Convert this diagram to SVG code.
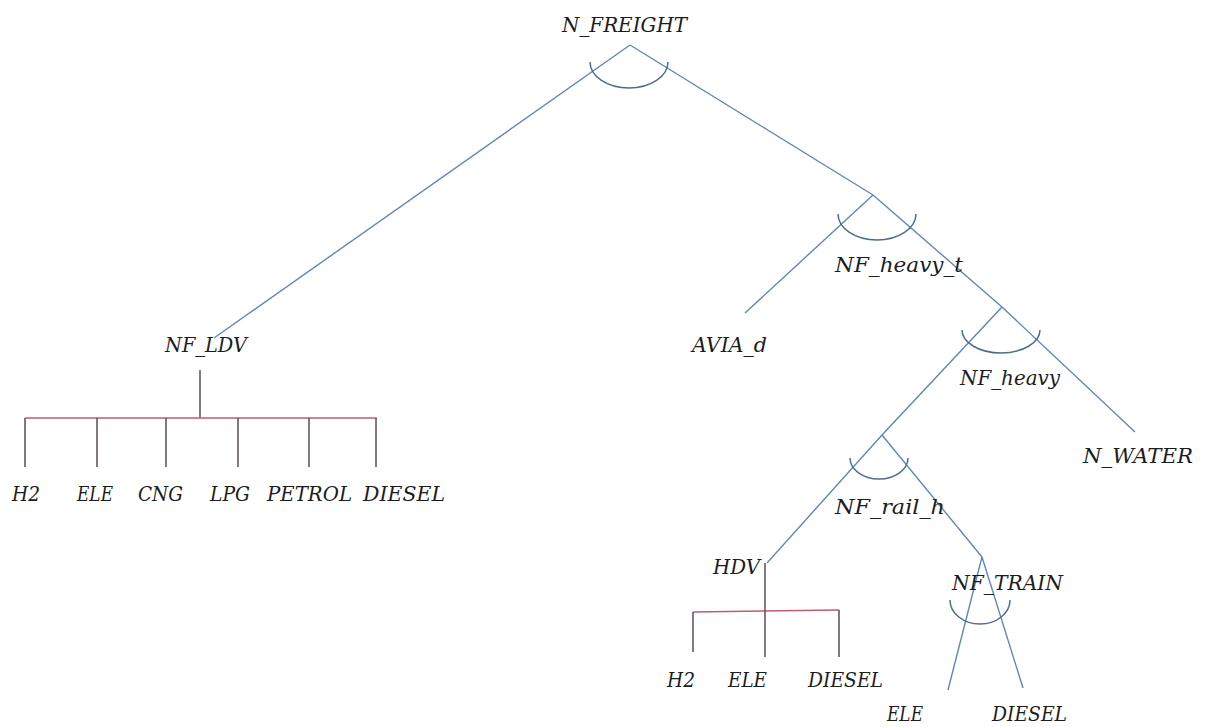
<svg xmlns="http://www.w3.org/2000/svg" width="1207" height="727" viewBox="0 0 1207 727">
<style>
.t{font-family:"DejaVu Serif","Liberation Serif",serif;font-style:italic;font-size:20px;fill:#1c1c1c}
.b{stroke:#5f88b5;stroke-width:1.4;fill:none}
.arc{stroke:#4d6d8f;stroke-width:1.5;fill:none}
.r{stroke:#bf5f6a;stroke-width:1.5;fill:none}
.d{stroke:#5e4c52;stroke-width:1.5;fill:none}
</style>
<rect width="1207" height="727" fill="#ffffff"/>
<g id="connectors">
<line class="b" x1="630" y1="45" x2="214" y2="338"/>
<line class="b" x1="630" y1="45" x2="873" y2="195"/>
<line class="b" x1="873" y1="195" x2="1002" y2="307"/>
<line class="b" x1="873" y1="195" x2="745" y2="313"/>
<line class="b" x1="1002" y1="307" x2="1135" y2="432"/>
<line class="b" x1="1002" y1="307" x2="882" y2="435"/>
<line class="b" x1="882" y1="435" x2="767" y2="563"/>
<line class="b" x1="882" y1="435" x2="982" y2="557"/>
<line class="b" x1="982" y1="557" x2="948" y2="690"/>
<line class="b" x1="982" y1="557" x2="1023" y2="688"/>
<line class="d" x1="200" y1="370" x2="200" y2="418"/>
<line class="r" x1="25" y1="418" x2="377" y2="418"/>
<line class="d" x1="25" y1="418" x2="25" y2="467"/>
<line class="d" x1="97" y1="418" x2="97" y2="467"/>
<line class="d" x1="166" y1="418" x2="166" y2="467"/>
<line class="d" x1="238" y1="418" x2="238" y2="467"/>
<line class="d" x1="309" y1="418" x2="309" y2="467"/>
<line class="d" x1="376" y1="418" x2="376" y2="467"/>
<line class="r" x1="693" y1="612" x2="839" y2="610"/>
<line class="d" x1="765" y1="563" x2="765" y2="657"/>
<line class="d" x1="693" y1="612" x2="693" y2="652"/>
<line class="d" x1="839" y1="610" x2="839" y2="657"/>
</g>
<g id="n_freight">
<path class="arc" d="M590,62 A39,26 0 0 0 668,62"/>
<text class="t" x="562" y="32" textLength="125" lengthAdjust="spacingAndGlyphs">N_FREIGHT</text>
</g>
<g id="nf_heavy_t">
<path class="arc" d="M838,214 A39,26 0 0 0 916,214"/>
<text class="t" x="835" y="272" textLength="128" lengthAdjust="spacingAndGlyphs">NF_heavy_t</text>
</g>
<g id="avia_d"><text class="t" x="692" y="352" textLength="75" lengthAdjust="spacingAndGlyphs">AVIA_d</text></g>
<g id="nf_heavy">
<path class="arc" d="M962,330 A39,23 0 0 0 1040,330"/>
<text class="t" x="960" y="385" textLength="100" lengthAdjust="spacingAndGlyphs">NF_heavy</text>
</g>
<g id="n_water"><text class="t" x="1083" y="463" textLength="110" lengthAdjust="spacingAndGlyphs">N_WATER</text></g>
<g id="nf_rail_h">
<path class="arc" d="M850,458 A29,21 0 0 0 908,458"/>
<text class="t" x="835" y="514" textLength="110" lengthAdjust="spacingAndGlyphs">NF_rail_h</text>
</g>
<g id="nf_ldv"><text class="t" x="165" y="352" textLength="82" lengthAdjust="spacingAndGlyphs">NF_LDV</text></g>
<g id="ldv_h2"><text class="t" x="12" y="501" textLength="28" lengthAdjust="spacingAndGlyphs">H2</text></g>
<g id="ldv_ele"><text class="t" x="77" y="501" textLength="36" lengthAdjust="spacingAndGlyphs">ELE</text></g>
<g id="ldv_cng"><text class="t" x="138" y="501" textLength="45" lengthAdjust="spacingAndGlyphs">CNG</text></g>
<g id="ldv_lpg"><text class="t" x="210" y="501" textLength="40" lengthAdjust="spacingAndGlyphs">LPG</text></g>
<g id="ldv_petrol"><text class="t" x="267" y="501" textLength="85" lengthAdjust="spacingAndGlyphs">PETROL</text></g>
<g id="ldv_diesel"><text class="t" x="363" y="501" textLength="82" lengthAdjust="spacingAndGlyphs">DIESEL</text></g>
<g id="hdv"><text class="t" x="713" y="574" textLength="47" lengthAdjust="spacingAndGlyphs">HDV</text></g>
<g id="hdv_h2"><text class="t" x="667" y="687" textLength="28" lengthAdjust="spacingAndGlyphs">H2</text></g>
<g id="hdv_ele"><text class="t" x="728" y="687" textLength="39" lengthAdjust="spacingAndGlyphs">ELE</text></g>
<g id="hdv_diesel"><text class="t" x="808" y="687" textLength="75" lengthAdjust="spacingAndGlyphs">DIESEL</text></g>
<g id="nf_train">
<path class="arc" d="M950,600 A30,24 0 0 0 1010,600"/>
<text class="t" x="952" y="590" textLength="111" lengthAdjust="spacingAndGlyphs">NF_TRAIN</text>
</g>
<g id="train_ele"><text class="t" x="887" y="721" textLength="36" lengthAdjust="spacingAndGlyphs">ELE</text></g>
<g id="train_diesel"><text class="t" x="992" y="721" textLength="75" lengthAdjust="spacingAndGlyphs">DIESEL</text></g>
</svg>
